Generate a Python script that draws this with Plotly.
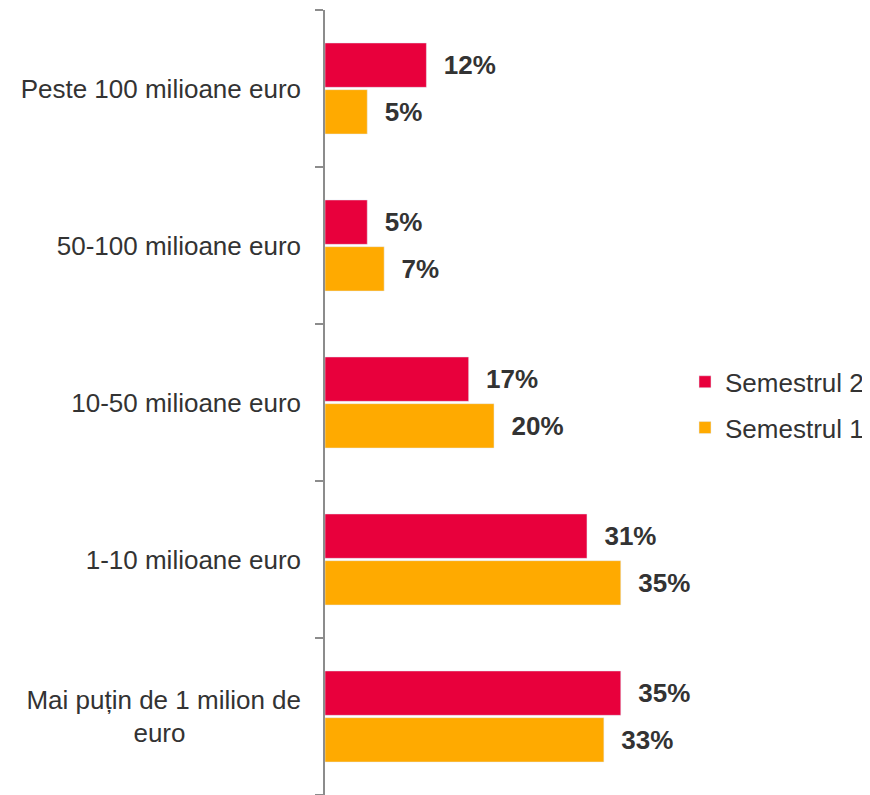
import plotly.graph_objects as go

# categories listed bottom -> top
categories = [
    "Mai puțin de 1 milion de<br>euro" + "\u00a0" * 16,
    "1-10 milioane euro",
    "10-50 milioane euro",
    "50-100 milioane euro",
    "Peste 100 milioane euro",
]
semestrul_1 = [33, 35, 20, 7, 5]
semestrul_2 = [35, 31, 17, 5, 12]

RED = "#E8003C"
ORANGE = "#FFAA00"
TEXT = "#333333"
FONT = "Liberation Sans, Arial, sans-serif"


def labels(vals):
    return ["\u00a0\u00a0" + f"{v}%" for v in vals]


fig = go.Figure()
fig.add_trace(go.Bar(
    y=categories, x=semestrul_1, orientation="h", name="Semestrul 1",
    marker_color=ORANGE, text=labels(semestrul_1), textposition="outside",
    textfont=dict(family=FONT, size=26, color=TEXT, weight="bold"),
    constraintext="none", cliponaxis=False, legendrank=2, legendgroup="s1",
))
fig.add_trace(go.Bar(
    y=categories, x=semestrul_2, orientation="h", name="Semestrul 2",
    marker_color=RED, text=labels(semestrul_2), textposition="outside",
    textfont=dict(family=FONT, size=26, color=TEXT, weight="bold"),
    constraintext="none", cliponaxis=False, legendrank=1, legendgroup="s2",
))

# page body adds an 8px offset, so the figure is 8px smaller each way
fig.update_layout(
    width=862, height=787,
    margin=dict(l=317, r=164, t=2, b=0),
    barmode="group", bargap=0.405, bargroupgap=0.05,
    plot_bgcolor="white", paper_bgcolor="white",
    font=dict(family=FONT, size=26, color=TEXT),
    legend=dict(
        xref="container", x=0.7854, xanchor="left", y=0.497, yanchor="middle",
        traceorder="grouped", tracegroupgap=9, itemclick=False,
        font=dict(family=FONT, size=26, color=TEXT),
    ),
)
fig.update_xaxes(range=[0, 42.6], visible=False)
fig.update_yaxes(
    type="category", categoryorder="array", categoryarray=categories,
    showline=True, linecolor="#8c8c8c", linewidth=1.5,
    ticks="outside", tickson="boundaries", ticklen=8, tickcolor="#8c8c8c",
    tickwidth=1.5, ticklabelstandoff=17, showgrid=False,
    tickfont=dict(family=FONT, size=26, color=TEXT),
)

fig.write_html("out.html")
